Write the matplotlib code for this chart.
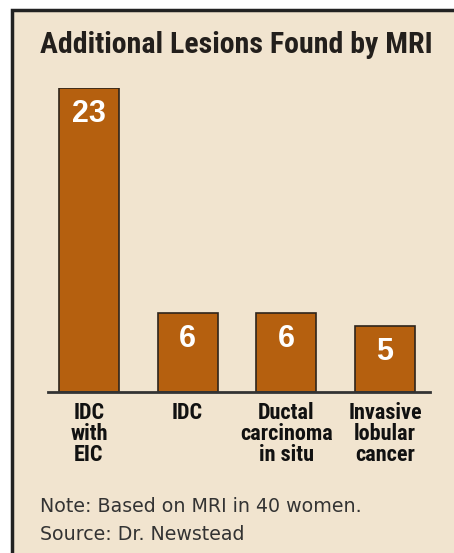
# Additional lesions found by MRI
import matplotlib.pyplot as plt
from matplotlib.patches import Rectangle
from matplotlib import font_manager as fm

categories = ["IDC\nwith\nEIC", "IDC", "Ductal\ncarcinoma\nin situ", "Invasive\nlobular\ncancer"]
values = [23, 6, 6, 5]
title = "Additional Lesions Found by MRI"
note = "Note: Based on MRI in 40 women."
source = "Source: Dr. Newstead"

# pick a condensed face if one is installed
narrow, stretch = "DejaVu Sans", "condensed"
names = {f.name for f in fm.fontManager.ttflist}
for cand in ["Liberation Sans Narrow", "Roboto Condensed", "Open Sans Condensed"]:
    if cand in names:
        narrow, stretch = cand, "normal"
        break

bg = "#F1E4CF"
bar_col = "#B5600F"
W, H = 454, 553

fig = plt.figure(figsize=(W / 100, H / 100), dpi=100)
fig.patch.set_facecolor("white")

# panel with dark border, running off right and bottom
fig.patches.append(Rectangle((12 / W, -0.1), 1.2, (H - 10) / H + 0.1, transform=fig.transFigure,
                             facecolor=bg, edgecolor="#222222", linewidth=2.5, zorder=-1))

ax = fig.add_axes([48 / W, (H - 392) / H, (430 - 48) / W, (392 - 88) / H], zorder=2)
ax.set_facecolor("none")
x = list(range(len(values)))
ax.bar(x, values, width=0.61, color=bar_col, edgecolor="#2e241c", linewidth=1.2, zorder=2)
ax.set_xlim(-0.415, 3.456)
ax.set_ylim(0, 23)

for xi, v in zip(x, values):
    ax.annotate(str(v), (xi, v), xytext=(0, -8), textcoords="offset points",
                ha="center", va="top", color="white", fontsize=22, fontweight="bold",
                family="Liberation Sans", zorder=4)

for s in ["top", "right", "left"]:
    ax.spines[s].set_visible(False)
ax.spines["bottom"].set_color("#333333")
ax.spines["bottom"].set_linewidth(2)
ax.spines["bottom"].set_zorder(3)
ax.set_yticks([])
ax.set_xticks(x)
ax.set_xticklabels(categories, family=narrow, fontstretch=stretch, fontweight="bold",
                   fontsize=16, linespacing=0.95, color="#111111")
ax.tick_params(axis="x", length=0, pad=7)

fig.text(40 / W, 1 - 45 / H, title, ha="left", va="center", family=narrow, fontstretch=stretch,
         fontweight="bold", fontsize=21.5, color="#231f1c")
fig.text(40 / W, 1 - 506 / H, note, ha="left", va="center", family="DejaVu Sans",
         fontsize=13.7, color="#333333")
fig.text(40 / W, 1 - 534 / H, source, ha="left", va="center", family="DejaVu Sans",
         fontsize=13.7, color="#333333")

plt.savefig("out.png", dpi=100, facecolor=fig.get_facecolor())
